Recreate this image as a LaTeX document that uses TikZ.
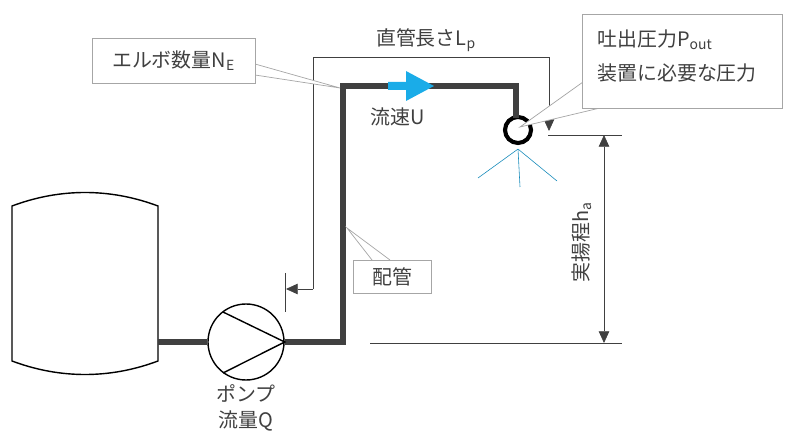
\documentclass[tikz,border=0pt]{standalone}
\usepackage{fontspec}
\newfontfamily\jp{Noto Sans CJK JP}
\usetikzlibrary{arrows.meta}
\definecolor{pipegray}{HTML}{404040}
\definecolor{flowblue}{HTML}{1AACE8}
\definecolor{boxgray}{HTML}{A6A6A6}
\tikzset{
	pipe/.style={line width=4.5pt, pipegray},
	dim/.style={line width=0.6pt, pipegray},
	lbl/.style={font=\jp\fontsize{17}{19}\selectfont, text=pipegray, inner sep=1pt},
	callout/.style={draw=boxgray, fill=white, line width=0.6pt},
}
\begin{document}
\begin{tikzpicture}[x=0.03cm, y=-0.03cm]

	\useasboundingbox (0,0) rectangle (793,433);

	% tank
	\draw[line width=1.2pt] (12,206) .. controls (60,188) and (110,188) .. (158,206)
		-- (158,361) .. controls (110,379) and (60,379) .. (12,361) -- cycle;

	% pipe
	\coordinate (tankout) at (158,342);
	\coordinate (elbowA) at (343,342);
	\coordinate (elbowB) at (343,86);
	\coordinate (elbowC) at (516,86);
	\coordinate (nozzletop) at (516,118);
	\node[circle, draw, line width=1.2pt, inner sep=0pt, minimum size=2.28cm] (pump) at (246,342) {};
	\node[circle, draw, line width=3.5pt, minimum size=0.78cm, inner sep=0pt] (nozzle) at (518,130) {};
	\draw[pipe] (tankout) -- (pump.west);
	\draw[pipe, line join=miter] (pump.east) -- (elbowA) -- (elbowB) -- (elbowC) -- (nozzletop);
	\draw[line width=1.2pt] (223,312) -- (pump.east) -- (223,373);

	% flow arrow
	\fill[flowblue] (388,82) -- (406,82) -- (406,71) -- (434,86) -- (406,101) -- (406,90) -- (388,90) -- cycle;

	% spray
	\foreach \x/\y in {478/178, 520/187, 557/181}
		\draw[flowblue!80!black, line width=0.5pt] (nozzle.south) ++(0,4) -- (\x,\y);

	% straight length
	\coordinate (lpA) at (313,289);
	\coordinate (lpB) at (313,57);
	\coordinate (lpC) at (549,57);
	\coordinate (lpD) at (549,131);
	\coordinate (lpE) at (286,289);
	\draw[dim] (285,273) -- (285,312);
	\draw[dim, -{Triangle[length=10pt, width=9pt]}] (lpA) -- (lpE);
	\draw[dim, -{Triangle[length=10pt, width=9pt]}] (lpA) -- (lpB) -- (lpC) -- (lpD);
	\node[lbl] (lp) at (426,40) {直管長さL\textsubscript{p}};

	% head
	\coordinate (hTop) at (604,135);
	\coordinate (hBot) at (604,343);
	\draw[dim] (548,135) -- (622,135);
	\draw[dim] (370,343) -- (622,343);
	\draw[dim, {Triangle[length=10pt, width=9pt]}-{Triangle[length=10pt, width=9pt]}] (hTop) -- (hBot);
	\node[lbl, rotate=90] (ha) at (582,242) {実揚程h\textsubscript{a}};

	% labels
	\node[lbl] (flow) at (398,117) {流速U};
	\node[lbl] (pumpname) at (246,393) {ポンプ};
	\node[lbl] (pumpq) at (246,421) {流量Q};

	% callouts
	\draw[callout] (255,64) -- (340,88) -- (255,75);
	\node[callout, lbl, minimum width=4.89cm, minimum height=1.35cm] (elbow) at (173.5,60.5) {エルボ数量N\textsubscript{E}};
	\draw[callout] (600,108) -- (520,127) -- (583,82);
	\node[callout, minimum width=6cm, minimum height=2.82cm] (outbox) at (682,61) {};
	\node[lbl, anchor=west] (pout) at (596,40) {吐出圧力P\textsubscript{out}};
	\node[lbl, anchor=west] (need) at (596,73) {装置に必要な圧力};
	\draw[callout] (372,260) -- (347,228) -- (390,260);
	\node[callout, lbl, minimum width=2.34cm, minimum height=0.99cm] (pipelbl) at (392,276.5) {配管};

\end{tikzpicture}
\end{document}
